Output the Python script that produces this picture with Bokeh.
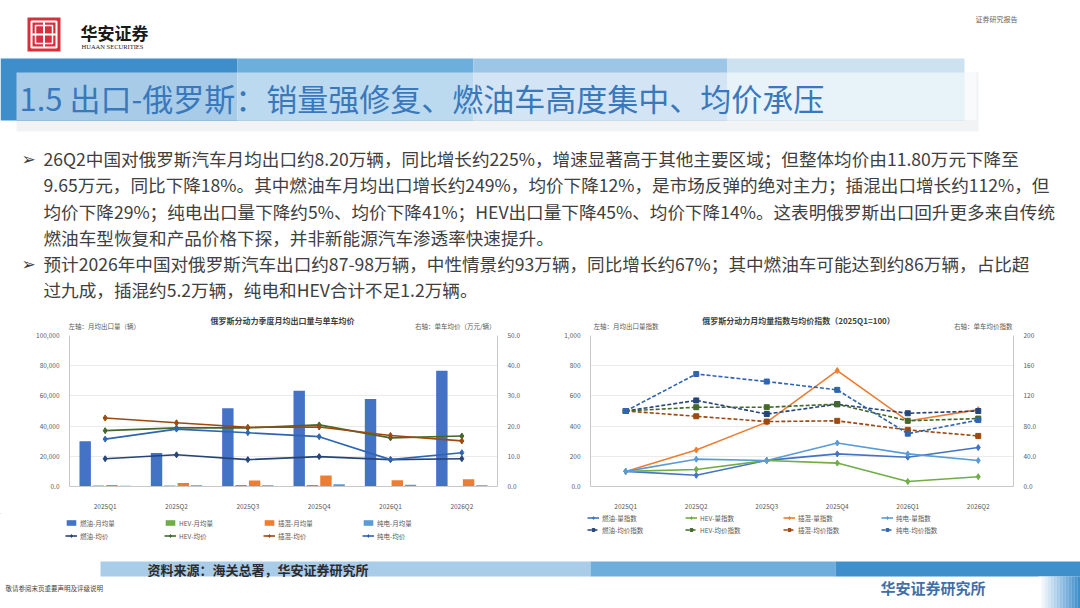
from bokeh.plotting import figure
from bokeh.models import (Range1d, FactorRange, LinearAxis, Legend, LegendItem,
                          FixedTicker, NumeralTickFormatter, ColumnDataSource)
from bokeh.transform import dodge
from bokeh.layouts import column, row
from bokeh.embed import file_html
from bokeh.resources import INLINE
from bokeh.core.properties import value

FONT = "Noto Sans CJK SC"

# ---------------- data ----------------
quarters = ["2025Q1", "2025Q2", "2025Q3", "2025Q4", "2026Q1", "2026Q2"]

# left chart: monthly average export volume (units) by powertrain
ice_vol = [30000, 22200, 51800, 63400, 57900, 76700]
hev_vol = [600, 680, 1020, 940, 200, 390]
phev_vol = [950, 2280, 4050, 7300, 4120, 4840]
bev_vol = [500, 900, 860, 1430, 1080, 860]
# left chart: average price (10k CNY / unit)
ice_price = [9.2, 10.5, 8.9, 9.9, 8.9, 9.2]
hev_price = [18.5, 19.4, 19.4, 20.4, 16.1, 16.7]
phev_price = [22.7, 21.1, 19.6, 19.7, 16.9, 15.1]
bev_price = [15.7, 19.0, 17.8, 16.5, 8.9, 11.2]

# right chart: volume index (left axis) and price index (right axis), 2025Q1=100
ice_vidx = [100, 74, 173, 216, 194, 258]
hev_vidx = [100, 113, 172, 155, 33, 65]
phev_vidx = [100, 242, 426, 768, 434, 509]
bev_vidx = [100, 181, 172, 288, 216, 172]
ice_pidx = [100, 114, 96, 109, 97, 100]
hev_pidx = [100, 105, 105, 109, 87, 90]
phev_pidx = [100, 93, 86, 87, 75, 67]
bev_pidx = [100, 149, 139, 128, 70, 88]

left_ticks = [0, 20000, 40000, 60000, 80000, 100000]
right_ticks_l = [0, 10, 20, 30, 40, 50]
idx_ticks = [0, 200, 400, 600, 800, 1000]
pidx_ticks = [0, 40, 80, 120, 160, 200]

names_v = ["燃油-月均量", "HEV-月均量", "插混-月均量", "纯电-月均量"]
names_p = ["燃油-均价", "HEV-均价", "插混-均价", "纯电-均价"]
names_vi = ["燃油-量指数", "HEV-量指数", "插混-量指数", "纯电-量指数"]
names_pi = ["燃油-均价指数", "HEV-均价指数", "插混-均价指数", "纯电-均价指数"]

title_main = "1.5 出口-俄罗斯：销量强修复、燃油车高度集中、均价承压"
bullet_lines = [
    "26Q2中国对俄罗斯汽车月均出口约8.20万辆，同比增长约225%，增速显著高于其他主要区域；但整体均价由11.80万元下降至",
    "9.65万元，同比下降18%。其中燃油车月均出口增长约249%，均价下降12%，是市场反弹的绝对主力；插混出口增长约112%，但",
    "均价下降29%；纯电出口量下降约5%、均价下降41%；HEV出口量下降45%、均价下降14%。这表明俄罗斯出口回升更多来自传统",
    "燃油车型恢复和产品价格下探，并非新能源汽车渗透率快速提升。",
    "预计2026年中国对俄罗斯汽车出口约87-98万辆，中性情景约93万辆，同比增长约67%；其中燃油车可能达到约86万辆，占比超",
    "过九成，插混约5.2万辆，纯电和HEV合计不足1.2万辆。",
]

C_VOL = ["#4472C4", "#70AD47", "#ED7D31", "#5B9BD5"]      # 燃油, HEV, 插混, 纯电
C_PRICE = ["#264478", "#43682B", "#9E480E", "#2F65B0"]


def blank(w, h, x0, x1, y_top, y_bot):
    p = figure(width=w, height=h, x_range=Range1d(x0, x1), y_range=Range1d(y_bot, y_top),
               output_backend="svg", toolbar_location=None, min_border=0,
               x_axis_location=None, y_axis_location=None)
    p.grid.visible = False
    p.outline_line_color = None
    p.background_fill_color = "white"
    p.border_fill_color = "white"
    return p


def txt(p, x, y, s, size, color, align="left", bold=False, font=FONT):
    p.text(x=[x], y=[y], text=[s], text_font=value(font), text_font_size=size,
           text_color=color, text_align=align, text_baseline="middle",
           text_font_style="bold" if bold else "normal")


# ---------------- top section (ref y 0..330) ----------------
top = blank(1080, 330, 0, 1080, 0, 330)
# logo
top.quad(left=[27], right=[60], top=[17], bottom=[51], fill_color="#D6303E", line_color=None)
top.quad(left=[31], right=[56], top=[21], bottom=[47], fill_color=None, line_color="white", line_width=2)
top.quad(left=[35], right=[52], top=[25], bottom=[43], fill_color=None, line_color="white", line_width=1.5)
top.segment(x0=[43.5, 31], y0=[21, 34], x1=[43.5, 56], y1=[47, 34], line_color="white", line_width=2)
txt(top, 80, 32, "华安证券", "17px", "#1a1a1a", bold=True)
txt(top, 81, 45.5, "HUAAN SECURITIES", "6.5px", "#1a1a1a", font="Liberation Serif")
txt(top, 975, 18, "证券研究报告", "7px", "#666666")
# title band
top.quad(left=[16], right=[978], top=[72], bottom=[131], fill_color="#F1F3F5", line_color=None)
top.quad(left=[0, 237, 473, 727], right=[237, 473, 727, 964], top=[58] * 4, bottom=[120] * 4,
         fill_color=["#3E8ECB", "#6CAEDC", "#9DC6E6", "#CDE2F1"], line_color=None)
top.quad(left=[16], right=[976], top=[72], bottom=[119.5], fill_color="white", fill_alpha=0.55,
         line_color=None)
txt(top, 19, 97, title_main, "31px", "#3A78BC")
# bullets
line_y = [158, 184, 211, 237, 263, 289]
for yy in (line_y[0], line_y[4]):
    txt(top, 21, yy, "➢", "17px", "#404040", font="DejaVu Sans")
for yy, s in zip(line_y, bullet_lines):
    txt(top, 43, yy, s, "17.6px", "#404040")
# chart titles and axis notes
txt(top, 282, 320, "俄罗斯分动力季度月均出口量与单车均价", "8px", "#404040", align="center", bold=True)
txt(top, 68, 325, "左轴：月均出口量（辆）", "6.5px", "#595959")
txt(top, 495, 325, "右轴：单车均价（万元/辆）", "6.5px", "#595959", align="right")
txt(top, 798, 320, "俄罗斯分动力月均量指数与均价指数（2025Q1=100）", "8px", "#404040",
    align="center", bold=True)
txt(top, 593, 325, "左轴：月均出口量指数", "6.5px", "#595959")
txt(top, 1012, 325, "右轴：单车均价指数", "6.5px", "#595959", align="right")


# ---------------- chart helpers ----------------
def style_axis(ax):
    ax.axis_line_color = "#C8C8C8"
    ax.major_tick_line_color = None
    ax.minor_tick_line_color = None
    ax.major_label_text_font = FONT
    ax.major_label_text_font_size = "6.5px"
    ax.major_label_text_color = "#595959"
    ax.major_label_standoff = 4


def chart(width, yr, extra_name, extra_rng, left_b, right_b, bottom_b):
    p = figure(width=width, height=183, x_range=FactorRange(*quarters), y_range=yr,
               output_backend="svg", toolbar_location=None,
               min_border_left=left_b, min_border_right=right_b, min_border_top=5,
               min_border_bottom=bottom_b)
    p.extra_y_ranges = {extra_name: extra_rng}
    p.outline_line_color = None
    p.xgrid.grid_line_color = None
    p.ygrid.grid_line_color = "#EBEBEB"
    return p


# ---------------- left chart (ref x 0..540, y 330..513) ----------------
src1 = ColumnDataSource(dict(q=quarters, v0=ice_vol, v1=hev_vol, v2=phev_vol, v3=bev_vol,
                             p0=ice_price, p1=hev_price, p2=phev_price, p3=bev_price))
p1 = chart(540, Range1d(0, 100000), "price", Range1d(0, 50), 69, 43, 20)
p1.yaxis.ticker = FixedTicker(ticks=left_ticks)
p1.yaxis.formatter = NumeralTickFormatter(format="0,0")
p1.yaxis.major_label_overrides = {0: "0.0"}
ax_r1 = LinearAxis(y_range_name="price", ticker=FixedTicker(ticks=right_ticks_l),
                   formatter=NumeralTickFormatter(format="0.0"))
p1.add_layout(ax_r1, "right")
for ax in [p1.xaxis[0], p1.yaxis[0], ax_r1]:
    style_axis(ax)
p1.xaxis.major_label_standoff = 8
for i, off in enumerate([-0.28, -0.095, 0.095, 0.28]):
    p1.vbar(x=dodge("q", off, range=p1.x_range), top="v%d" % i, width=0.16, source=src1,
            fill_color=C_VOL[i], line_color=None)
for i in range(4):
    p1.line(x="q", y="p%d" % i, source=src1, y_range_name="price", line_color=C_PRICE[i], line_width=1.6)
    p1.scatter(x="q", y="p%d" % i, source=src1, y_range_name="price", marker="diamond", size=6,
               fill_color=C_PRICE[i], line_color=C_PRICE[i])

# ---------------- right chart (ref x 540..1080) ----------------
src2 = ColumnDataSource(dict(q=quarters, v0=ice_vidx, v1=hev_vidx, v2=phev_vidx, v3=bev_vidx,
                             p0=ice_pidx, p1=hev_pidx, p2=phev_pidx, p3=bev_pidx))
p2 = chart(540, Range1d(0, 1000), "pidx", Range1d(0, 200), 50, 67, 25)
p2.yaxis.ticker = FixedTicker(ticks=idx_ticks)
p2.yaxis.formatter = NumeralTickFormatter(format="0,0")
p2.yaxis.major_label_overrides = {0: "0.0"}
ax_r2 = LinearAxis(y_range_name="pidx", ticker=FixedTicker(ticks=pidx_ticks))
ax_r2.major_label_overrides = {0: "0.0", 40: "40.0", 80: "80.0", 120: "120", 160: "160", 200: "200"}
p2.add_layout(ax_r2, "right")
for ax in [p2.xaxis[0], p2.yaxis[0], ax_r2]:
    style_axis(ax)
p2.xaxis.major_label_standoff = 8
for i in range(4):
    p2.line(x="q", y="v%d" % i, source=src2, line_color=C_VOL[i], line_width=1.6)
    p2.scatter(x="q", y="v%d" % i, source=src2, marker="diamond", size=6,
               fill_color=C_VOL[i], line_color=C_VOL[i])
for i in range(4):
    p2.line(x="q", y="p%d" % i, source=src2, y_range_name="pidx", line_color=C_PRICE[i],
            line_width=1.6, line_dash="4 2")
    p2.scatter(x="q", y="p%d" % i, source=src2, y_range_name="pidx", marker="square", size=5,
               fill_color=C_PRICE[i], line_color=C_PRICE[i])

# ---------------- legends row (ref y 513..545) ----------------
# legend swatches use one off-screen point each so that the legend can draw their glyphs
leg_fig = blank(1080, 32, 0, 1080, 513, 545)
OFF = [-5000]


def legend_items(kind_top, names_top, names_bot, marker_top, dashed_bot, marker_bot):
    items = []
    for i, n in enumerate(names_top):
        if kind_top == "bar":
            r = leg_fig.vbar(x=OFF, top=OFF, bottom=[-6000], width=1, fill_color=C_VOL[i], line_color=None)
            items.append(LegendItem(label=n, renderers=[r]))
        else:
            l = leg_fig.line(x=OFF, y=OFF, line_color=C_VOL[i], line_width=1.6)
            s = leg_fig.scatter(x=OFF, y=OFF, marker=marker_top, size=6, fill_color=C_VOL[i],
                                line_color=C_VOL[i])
            items.append(LegendItem(label=n, renderers=[l, s]))
    for i, n in enumerate(names_bot):
        l = leg_fig.line(x=OFF, y=OFF, line_color=C_PRICE[i], line_width=1.6,
                         line_dash="4 2" if dashed_bot else "solid")
        s = leg_fig.scatter(x=OFF, y=OFF, marker=marker_bot, size=5 if dashed_bot else 6,
                            fill_color=C_PRICE[i], line_color=C_PRICE[i])
        items.append(LegendItem(label=n, renderers=[l, s]))
    return items


def make_legend(items, loc, spacing):
    leg = Legend(items=items, orientation="horizontal", ncols=4, location=loc)
    leg.label_text_font = FONT
    leg.label_text_font_size = "6.5px"
    leg.label_text_color = "#595959"
    leg.glyph_width = 12
    leg.glyph_height = 7
    leg.label_height = 7
    leg.label_width = 81
    leg.label_standoff = 3
    leg.spacing = spacing
    leg.padding = 0
    leg.margin = 0
    leg.border_line_color = None
    leg.background_fill_alpha = 0
    return leg


leg_fig.add_layout(make_legend(legend_items("bar", names_v, names_p, None, False, "diamond"),
                               (65, 4.5), 3))
leg_fig.add_layout(make_legend(legend_items("line", names_vi, names_pi, "diamond", True, "square"),
                               (587, 10.5), 2))

# ---------------- footer (ref y 545..608) ----------------
foot = blank(1080, 63, 0, 1080, 545, 608)
foot.quad(left=[100, 590, 835], right=[590, 835, 1080], top=[561] * 3, bottom=[576] * 3,
          fill_color=["#A9CCE8", "#6DAEDC", "#3F8FCB"], line_color=None)
txt(foot, 147, 568.5, "资料来源：海关总署，华安证券研究所", "13px", "#2b2b2b", bold=True)
txt(foot, 5, 587, "敬请参阅末页重要声明及评级说明", "6.5px", "#444444")
txt(foot, 880, 587, "华安证券研究所", "15px", "#3F6FA8", bold=True)
n = 14
gl = [1038 + i * 3 for i in range(n)]
gr = [x + 3.2 for x in gl]


def mix(t):
    a = (255, 255, 255)
    b = (0x3F, 0x8F, 0xCB)
    return "#%02X%02X%02X" % tuple(int(a[k] + (b[k] - a[k]) * t) for k in range(3))


foot.quad(left=gl, right=gr, top=[576] * n, bottom=[608] * n,
          fill_color=[mix(i / (n - 1)) for i in range(n)], line_color=None)

layout = column(top, row(p1, p2), leg_fig, foot)
open("out.html", "w").write(file_html(layout, INLINE))
